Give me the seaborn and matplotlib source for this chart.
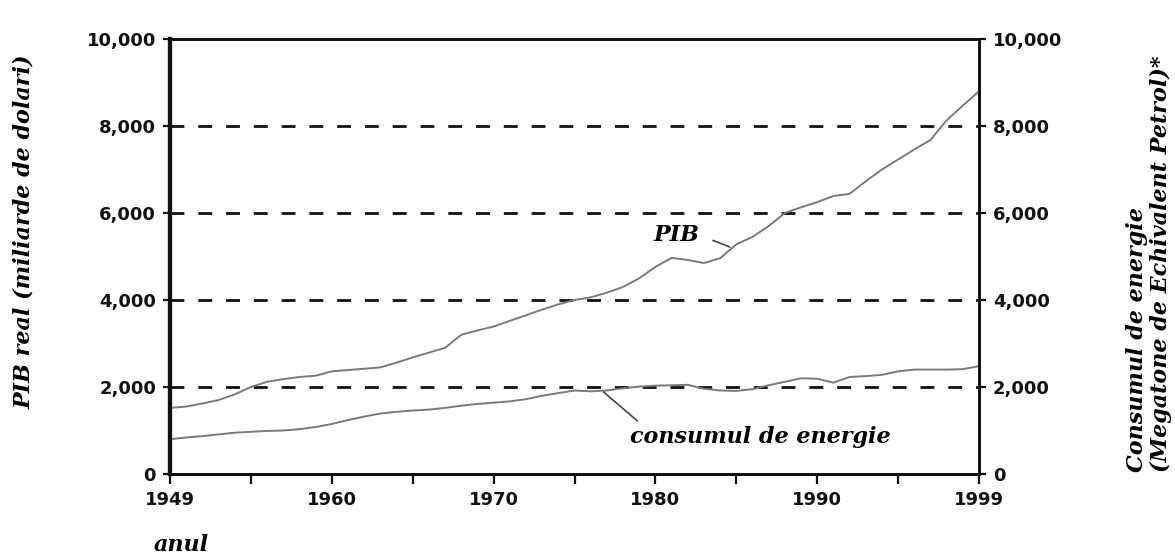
import matplotlib
matplotlib.use("Agg")
import matplotlib.pyplot as plt
import matplotlib.ticker as mticker
import seaborn as sns
import pandas as pd

# data
years = list(range(1949, 2000))
pib = [1520, 1550, 1620, 1700, 1830, 2000, 2120, 2180, 2230, 2260,
       2360, 2390, 2420, 2450, 2560, 2680, 2790, 2900, 3200, 3300,
       3390, 3520, 3650, 3780, 3900, 4000, 4060, 4170, 4300, 4500,
       4760, 4970, 4920, 4850, 4960, 5280, 5450, 5700, 6000, 6130,
       6250, 6390, 6440, 6730, 7000, 7230, 7460, 7680, 8130, 8470,
       8800]
energie = [800, 840, 870, 910, 950, 970, 990, 1000, 1030, 1080,
           1150, 1240, 1320, 1390, 1430, 1460, 1480, 1520, 1570, 1610,
           1640, 1670, 1720, 1800, 1860, 1920, 1900, 1920, 1970, 2010,
           2030, 2040, 2050, 1960, 1920, 1910, 1950, 2040, 2120, 2200,
           2190, 2100, 2230, 2250, 2280, 2360, 2400, 2400, 2400, 2410,
           2480]

x_ticks = [1949, 1954, 1959, 1964, 1969, 1974, 1979, 1984, 1989, 1994, 1999]
x_tick_labels = ['1949', '', '1960', '', '1970', '', '1980', '', '1990', '', '1999']
y_ticks = [0, 2000, 4000, 6000, 8000, 10000]
grid_levels = [2000, 4000, 6000, 8000]

df = pd.DataFrame({
    'anul': years * 2,
    'valoare': pib + energie,
    'serie': ['PIB'] * len(years) + ['consumul de energie'] * len(years),
})

sns.set_theme(style='ticks')
plt.rcParams['font.family'] = ['DejaVu Sans']
plt.rcParams['font.weight'] = 'bold'
plt.rcParams['text.color'] = 'black'
plt.rcParams['axes.labelcolor'] = 'black'

label_font = dict(family='DejaVu Serif', style='italic', weight='bold', size=16)

fig = plt.figure(figsize=(11.75, 5.54), dpi=100)
ax = fig.add_axes([170 / 1175, 1 - 474 / 554, 809 / 1175, 435 / 554])

sns.lineplot(data=df, x='anul', y='valoare', hue='serie',
             palette=['#7a7a7a', '#7a7a7a'], linewidth=1.4,
             legend=False, ax=ax, zorder=3)

for lvl in grid_levels:
    ax.axhline(lvl, color='#111111', lw=2.0, dashes=(5.0, 5.0), zorder=2)

ax.set_xlim(1949, 1999)
ax.set_ylim(0, 10000)
ax.set_xticks(x_ticks, x_tick_labels)
ax.set_yticks(y_ticks)
ax.yaxis.set_major_formatter(mticker.StrMethodFormatter('{x:,.0f}'))
ax.tick_params(axis='x', direction='out', length=7, width=1.6,
               labelsize=13, pad=5, colors='#111111')
ax.tick_params(axis='y', direction='out', length=5, width=1.6,
               labelsize=13, pad=5, colors='#111111')

for side, w in [('left', 3.0), ('bottom', 2.0), ('top', 2.0), ('right', 2.0)]:
    ax.spines[side].set_linewidth(w)
    ax.spines[side].set_color('#111111')

ax2 = ax.twinx()
ax2.set_ylim(0, 10000)
ax2.set_yticks(y_ticks)
ax2.yaxis.set_major_formatter(mticker.StrMethodFormatter('{x:,.0f}'))
ax2.tick_params(axis='y', direction='out', length=5, width=1.6,
                labelsize=13, pad=5, colors='#111111')
for side in ['left', 'bottom', 'top', 'right']:
    ax2.spines[side].set_linewidth(2.0)
    ax2.spines[side].set_color('#111111')
ax2.spines['left'].set_linewidth(3.0)

ax.set_ylabel('PIB real (miliarde de dolari)', fontdict=label_font,
              va='center', ha='center', color='black')
ax.yaxis.set_label_coords(-0.180, 0.556)

ax2.set_ylabel('Consumul de energie\n(Megatone de Echivalent Petrol)*',
               fontdict=label_font, rotation=90, rotation_mode='anchor',
               ha='left', va='center', multialignment='left',
               linespacing=1.15, color='black')
ax2.yaxis.set_label_coords(1.210, 0.005)

ax.set_xlabel('anul', fontdict=label_font, va='center', color='black')
ax.xaxis.set_label_coords(0.0136, -0.163)

ax.annotate('PIB', xy=(1983.6, 5218), xytext=(1980.3, 5494),
            ha='center', va='center', fontfamily='DejaVu Serif',
            fontstyle='italic', fontweight='bold', fontsize=16, color='black',
            arrowprops=dict(arrowstyle='-', color='#444444', lw=1.2,
                            shrinkA=8, shrinkB=0, relpos=(1, 0.5)))
ax.annotate('consumul de energie', xy=(1975.8, 1885), xytext=(1985.5, 713),
            ha='center', va='baseline', fontfamily='DejaVu Serif',
            fontstyle='italic', fontweight='bold', fontsize=16, color='black',
            arrowprops=dict(arrowstyle='-', color='#444444', lw=1.2,
                            shrinkA=2, shrinkB=0, relpos=(0.05, 1.0)))

fig.savefig('out.png', dpi=100)
